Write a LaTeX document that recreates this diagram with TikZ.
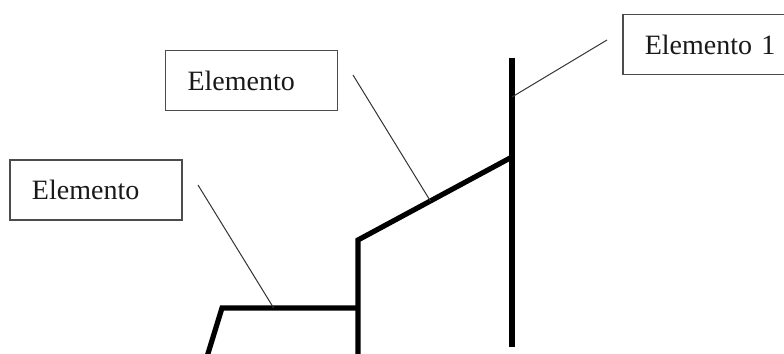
\documentclass[tikz,border=0pt]{standalone}
\usepackage{fontspec}
\setmainfont{Liberation Serif}
\usepackage{tikz}
\usetikzlibrary{calc}

\begin{document}
\begin{tikzpicture}[x=0.5pt,y=-0.5pt]
\tikzstyle{label box} =[draw=black!70, line width=0.8pt, rectangle, fill=white, text=black!90,
  minimum height=30pt, text width=64pt, inner xsep=11pt, align=left,
  font=\fontsize{14}{16}\selectfont]
\tikzstyle{bar} =[line width=2.6pt, line join=miter]
\tikzstyle{leader} =[line width=0.5pt, black!80]

\useasboundingbox (0,0) rectangle (784,354);
\clip (0,0) rectangle (784,354);

% boxes
\node[label box](e1) at (96,190){Elemento};
\node[label box](e2) at (251.5,80.5){Elemento};
\node[label box,anchor=west,text width=80pt](e3) at (622,44.5){Elemento 1};

% thick lines
\coordinate (a0) at (206,360);
\coordinate (a1) at (222,308);
\coordinate (a2) at (358,308);
\coordinate (b0) at (358,360);
\coordinate (b1) at (358,240);
\coordinate (b2) at (512,157);
\coordinate (c0) at (512,58);
\coordinate (c1) at (512,347);

\draw[bar] (a0) -- (a1) -- (a2);
\draw[bar] (b0) -- (b1) -- (b2);
\draw[bar] (c0) -- (c1);

% leaders
\coordinate (t1) at (198,185);
\coordinate (t2) at (353,75);
\coordinate (t3) at (607,40);
\coordinate (h3) at (512,97);

\draw[leader] (t1) -- ($(a1)!0.38!(a2)$);
\draw[leader] (t2) -- ($(b1)!0.47!(b2)$);
\draw[leader] (t3) -- (h3);
\end{tikzpicture}
\end{document}
